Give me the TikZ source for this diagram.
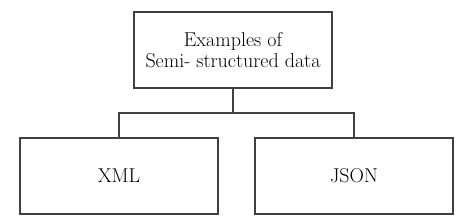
\documentclass[tikz,border=0pt]{standalone}
\usetikzlibrary{positioning}
\begin{document}
\begin{tikzpicture}[x=0.75pt,y=-0.75pt,
  catbox/.style={draw=black!75,line width=0.8pt,minimum width=148.5pt,minimum height=57pt,
    align=center,font=\fontsize{15}{15.5}\selectfont,inner sep=0pt},
  treeline/.style={draw=black!75,line width=0.8pt}
]
  \useasboundingbox (0,0) rectangle (464,220);
  % Root
  \node[catbox] (semi) at (233,50) {Examples of\\Semi- structured data};
  % Leaves
  \node[catbox] (xml) at (119,176) {XML};
  \node[catbox] (json) at (354,176) {JSON};
  % Connectors
  \coordinate (fork) at (233,113);
  \draw[treeline] (semi.south) -- (fork);
  \draw[treeline] (xml.north) |- (fork) -| (json.north);
\end{tikzpicture}
\end{document}
